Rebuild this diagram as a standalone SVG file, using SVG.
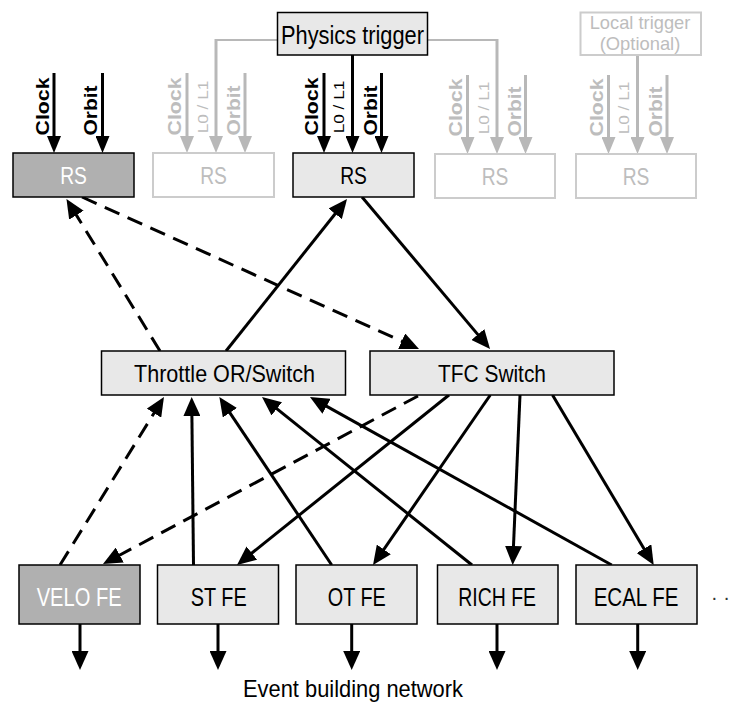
<svg xmlns="http://www.w3.org/2000/svg" width="742" height="702" viewBox="0 0 742 702">
  <style>
    text { font-family: "Liberation Sans", Arial, Helvetica, sans-serif; }
    .lbl { text-anchor: middle; fill: #000; }
    .box { fill: #e8e8e8; stroke: #000; stroke-width: 1.5; }
    .dark { fill: #b0b0b0; stroke: #000; stroke-width: 1.5; }
    .ghost { fill: #fff; stroke: #cccccc; stroke-width: 2; }
    .wt { fill: #fff; }
    .gt { fill: #bdbdbd; }
    .v { font-weight: bold; font-size: 18.5px; }
    .vr { font-size: 14px; }
    .w { stroke: #000; stroke-width: 3; fill: none; }
    .g { stroke: #b8b8b8; stroke-width: 3; fill: none; }
    .gh { stroke: #b8b8b8; stroke-width: 2; fill: none; }
    .dash { stroke-dasharray: 16 9; }
    .ah { marker-end: url(#big); }
    .as { marker-end: url(#small); }
    .ag { marker-end: url(#smallg); }
  </style>
  <defs>
    <marker id="big" viewBox="0 0 19 17" refX="9" refY="8.5" markerWidth="19" markerHeight="17" markerUnits="userSpaceOnUse" orient="auto">
      <path d="M0,0 L19,8.5 L0,17 Z" fill="#000"/>
    </marker>
    <marker id="small" viewBox="0 0 17 14" refX="7" refY="7" markerWidth="17" markerHeight="14" markerUnits="userSpaceOnUse" orient="auto">
      <path d="M0,0 L17,7 L0,14 Z" fill="#000"/>
    </marker>
    <marker id="smallg" viewBox="0 0 17 14" refX="7" refY="7" markerWidth="17" markerHeight="14" markerUnits="userSpaceOnUse" orient="auto">
      <path d="M0,0 L17,7 L0,14 Z" fill="#b8b8b8"/>
    </marker>
  </defs>

  <!-- connectors -->
  <g id="connectors">
    <!-- trigger distribution -->
    <line class="gh" x1="277" y1="40" x2="215" y2="40"/>
    <line class="g ag" x1="216" y1="39" x2="216" y2="143"/>
    <line class="gh" x1="428" y1="40" x2="498" y2="40"/>
    <line class="g ag" x1="497" y1="39" x2="497" y2="144"/>
    <line class="w as" x1="352.5" y1="55" x2="352.5" y2="143"/>
    <line class="g ag" x1="637.5" y1="55" x2="637.5" y2="144"/>

    <!-- clock / orbit inputs -->
    <line class="w as" x1="54" y1="73" x2="54" y2="143"/>
    <line class="w as" x1="102.5" y1="73" x2="102.5" y2="143"/>
    <line class="g ag" x1="187" y1="73" x2="187" y2="143"/>
    <line class="g ag" x1="245" y1="73" x2="245" y2="143"/>
    <line class="w as" x1="324" y1="73" x2="324" y2="143"/>
    <line class="w as" x1="381.5" y1="73" x2="381.5" y2="143"/>
    <line class="g ag" x1="467.5" y1="75" x2="467.5" y2="144"/>
    <line class="g ag" x1="525.5" y1="75" x2="525.5" y2="144"/>
    <line class="g ag" x1="608.5" y1="75" x2="608.5" y2="144"/>
    <line class="g ag" x1="667" y1="75" x2="667" y2="144"/>

    <!-- RS level to switches -->
    <line class="w dash ah" x1="160" y1="351" x2="71.7" y2="207.5"/>
    <line class="w dash ah" x1="82" y1="197" x2="409.9" y2="344.9"/>
    <line class="w ah" x1="226" y1="351" x2="340.8" y2="206.8"/>
    <line class="w ah" x1="362" y1="197" x2="483.6" y2="341.4"/>

    <!-- front-ends to throttle -->
    <line class="w dash ah" x1="60" y1="565" x2="158.7" y2="405.5"/>
    <line class="w ah" x1="193.5" y1="565" x2="191.8" y2="407"/>
    <line class="w ah" x1="331.7" y1="565" x2="224.9" y2="405.3"/>
    <line class="w ah" x1="472" y1="565" x2="269.8" y2="403.2"/>
    <line class="w ah" x1="611.7" y1="565" x2="318.7" y2="401.9"/>

    <!-- TFC switch to front-ends -->
    <line class="w dash ah" x1="418" y1="396" x2="111.8" y2="559.3"/>
    <line class="w ah" x1="449" y1="395" x2="244.8" y2="558.7"/>
    <line class="w ah" x1="490.3" y1="395" x2="378.7" y2="556.8"/>
    <line class="w ah" x1="520" y1="395" x2="513.1" y2="555"/>
    <line class="w ah" x1="552.5" y1="395" x2="648.6" y2="556.4"/>

    <!-- event building outputs -->
    <line class="w ah" x1="80" y1="624" x2="80" y2="660"/>
    <line class="w ah" x1="218" y1="624" x2="218" y2="660"/>
    <line class="w ah" x1="351.7" y1="624" x2="351.7" y2="660"/>
    <line class="w ah" x1="497" y1="624" x2="497" y2="660"/>
    <line class="w ah" x1="637.7" y1="624" x2="637.7" y2="660"/>
  </g>

  <!-- triggers -->
  <g id="physics-trigger">
    <rect class="box" x="277.5" y="12.5" width="150" height="42.5"/>
    <text class="lbl" x="352.5" y="44" font-size="25" textLength="143" lengthAdjust="spacingAndGlyphs">Physics trigger</text>
  </g>
  <g id="local-trigger">
    <rect class="ghost" x="580.5" y="12.5" width="120.5" height="42.5"/>
    <text class="lbl gt" x="640" y="28.5" font-size="19" textLength="100.7" lengthAdjust="spacingAndGlyphs">Local trigger</text>
    <text class="lbl gt" x="640" y="50" font-size="19" textLength="80.6" lengthAdjust="spacingAndGlyphs">(Optional)</text>
  </g>

  <!-- readout supervisors -->
  <g id="rs1">
    <rect class="dark" x="13" y="153" width="121" height="44"/>
    <text class="lbl wt" x="73.5" y="184" font-size="23" textLength="26.7" lengthAdjust="spacingAndGlyphs">RS</text>
    <text class="v" transform="translate(48.5,135.5) rotate(-90)" textLength="58" lengthAdjust="spacingAndGlyphs">Clock</text>
    <text class="v" transform="translate(96.5,135.5) rotate(-90)" textLength="50" lengthAdjust="spacingAndGlyphs">Orbit</text>
  </g>
  <g id="rs2">
    <rect class="ghost" x="153" y="153" width="121" height="44"/>
    <text class="lbl gt" x="213.5" y="184" font-size="23" textLength="26.7" lengthAdjust="spacingAndGlyphs">RS</text>
    <text class="v gt" transform="translate(181.3,135.5) rotate(-90)" textLength="58" lengthAdjust="spacingAndGlyphs">Clock</text>
    <text class="vr gt" transform="translate(207.7,133.3) rotate(-90)" textLength="52.6" lengthAdjust="spacingAndGlyphs">L0 / L1</text>
    <text class="v gt" transform="translate(240,135.5) rotate(-90)" textLength="50" lengthAdjust="spacingAndGlyphs">Orbit</text>
  </g>
  <g id="rs3">
    <rect class="box" x="293" y="153" width="121" height="44"/>
    <text class="lbl" x="353.5" y="184" font-size="23" textLength="26.7" lengthAdjust="spacingAndGlyphs">RS</text>
    <text class="v" transform="translate(318.3,135.5) rotate(-90)" textLength="58" lengthAdjust="spacingAndGlyphs">Clock</text>
    <text class="vr" transform="translate(344.3,133.3) rotate(-90)" textLength="52.6" lengthAdjust="spacingAndGlyphs">L0 / L1</text>
    <text class="v" transform="translate(376.7,135.5) rotate(-90)" textLength="50" lengthAdjust="spacingAndGlyphs">Orbit</text>
  </g>
  <g id="rs4">
    <rect class="ghost" x="435" y="154" width="120" height="44"/>
    <text class="lbl gt" x="495" y="185" font-size="23" textLength="26.7" lengthAdjust="spacingAndGlyphs">RS</text>
    <text class="v gt" transform="translate(461.8,136.5) rotate(-90)" textLength="58" lengthAdjust="spacingAndGlyphs">Clock</text>
    <text class="vr gt" transform="translate(488.7,134.3) rotate(-90)" textLength="52.6" lengthAdjust="spacingAndGlyphs">L0 / L1</text>
    <text class="v gt" transform="translate(520.5,136.5) rotate(-90)" textLength="50" lengthAdjust="spacingAndGlyphs">Orbit</text>
  </g>
  <g id="rs5">
    <rect class="ghost" x="576" y="154" width="120" height="44"/>
    <text class="lbl gt" x="636" y="185" font-size="23" textLength="26.7" lengthAdjust="spacingAndGlyphs">RS</text>
    <text class="v gt" transform="translate(602.8,136.5) rotate(-90)" textLength="58" lengthAdjust="spacingAndGlyphs">Clock</text>
    <text class="vr gt" transform="translate(629.2,134.3) rotate(-90)" textLength="52.6" lengthAdjust="spacingAndGlyphs">L0 / L1</text>
    <text class="v gt" transform="translate(662,136.5) rotate(-90)" textLength="50" lengthAdjust="spacingAndGlyphs">Orbit</text>
  </g>

  <!-- switches -->
  <g id="throttle-switch">
    <rect class="box" x="101.5" y="351" width="244" height="44"/>
    <text class="lbl" x="224.5" y="382" font-size="24.5" textLength="181" lengthAdjust="spacingAndGlyphs">Throttle OR/Switch</text>
  </g>
  <g id="tfc-switch">
    <rect class="box" x="370" y="351" width="244" height="44"/>
    <text class="lbl" x="492" y="382" font-size="24.5" textLength="108" lengthAdjust="spacingAndGlyphs">TFC Switch</text>
  </g>

  <!-- front-end electronics -->
  <g id="velo-fe">
    <rect class="dark" x="19" y="565" width="121" height="59"/>
    <text class="lbl wt" x="79.2" y="605.5" font-size="26" textLength="85" lengthAdjust="spacingAndGlyphs">VELO FE</text>
  </g>
  <g id="st-fe">
    <rect class="box" x="157.5" y="565" width="121" height="59"/>
    <text class="lbl" x="218.7" y="605.5" font-size="26" textLength="56" lengthAdjust="spacingAndGlyphs">ST FE</text>
  </g>
  <g id="ot-fe">
    <rect class="box" x="296" y="565" width="121" height="59"/>
    <text class="lbl" x="356.8" y="605.5" font-size="26" textLength="58" lengthAdjust="spacingAndGlyphs">OT FE</text>
  </g>
  <g id="rich-fe">
    <rect class="box" x="437.5" y="565" width="120.5" height="59"/>
    <text class="lbl" x="497.2" y="605.5" font-size="26" textLength="77.7" lengthAdjust="spacingAndGlyphs">RICH FE</text>
  </g>
  <g id="ecal-fe">
    <rect class="box" x="576" y="565" width="121" height="59"/>
    <text class="lbl" x="636" y="605.5" font-size="26" textLength="84.7" lengthAdjust="spacingAndGlyphs">ECAL FE</text>
  </g>
  <g id="more-fe">
    <text x="711" y="603.5" font-size="20" fill="#333">· ·</text>
  </g>

  <g id="event-building">
    <text class="lbl" x="353" y="696.5" font-size="24.5" textLength="220" lengthAdjust="spacingAndGlyphs">Event building network</text>
  </g>
</svg>
